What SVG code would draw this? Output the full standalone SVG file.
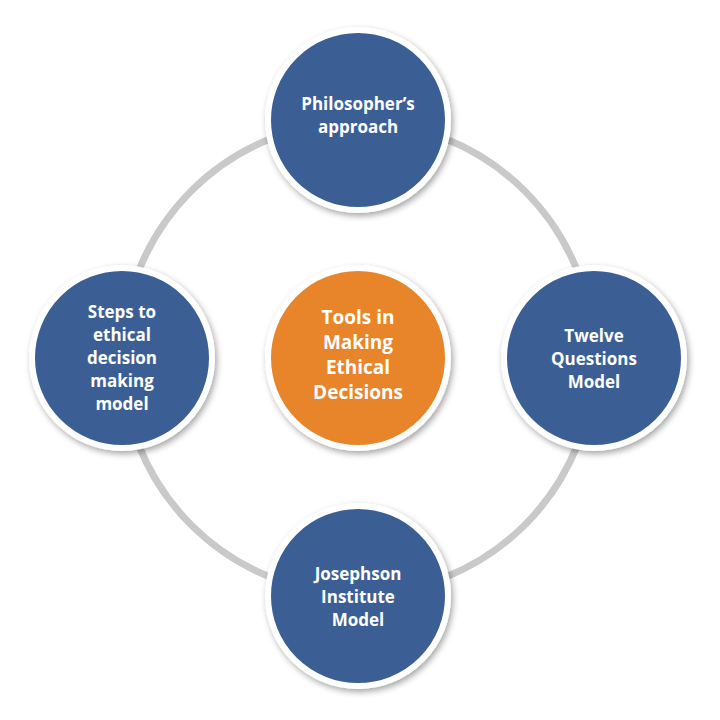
<svg xmlns="http://www.w3.org/2000/svg" width="720" height="720" viewBox="0 0 720 720">
<defs>
<filter id="sh" x="-20%" y="-20%" width="140%" height="140%"><feDropShadow dx="2" dy="3" stdDeviation="3" flood-color="#000" flood-opacity="0.35"/></filter>
<style>
.b{fill:#3b5e95;stroke:#fff;stroke-width:6;filter:url(#sh)}
.o{fill:#e8852b;stroke:#fff;stroke-width:6;filter:url(#sh)}
text{font-family:"Open Sans","Liberation Sans",sans-serif;font-weight:bold;font-size:17px;fill:#fff;text-anchor:middle}
.c{font-size:19px}
</style>
</defs>
<rect width="720" height="720" fill="#fff"/>
<g id="connectors"><circle cx="358" cy="358" r="236" fill="none" stroke="#c9c9c9" stroke-width="7"/></g>
<g id="center"><circle class="o" cx="358" cy="358" r="90"/>
<text class="c" x="358" y="324">Tools in</text><text class="c" x="358" y="349">Making</text><text class="c" x="358" y="374">Ethical</text><text class="c" x="358" y="399">Decisions</text></g>
<g id="top"><circle class="b" cx="358" cy="120" r="90"/>
<text x="358" y="110">Philosopher’s</text><text x="358" y="133">approach</text></g>
<g id="right"><circle class="b" cx="594" cy="358" r="90"/>
<text x="594" y="342">Twelve</text><text x="594" y="365">Questions</text><text x="594" y="388">Model</text></g>
<g id="bottom"><circle class="b" cx="358" cy="596" r="90"/>
<text x="358" y="580">Josephson</text><text x="358" y="603">Institute</text><text x="358" y="626">Model</text></g>
<g id="left"><circle class="b" cx="122" cy="358" r="90"/>
<text x="122" y="318">Steps to</text><text x="122" y="341">ethical</text><text x="122" y="364">decision</text><text x="122" y="387">making</text><text x="122" y="410">model</text></g>
</svg>
